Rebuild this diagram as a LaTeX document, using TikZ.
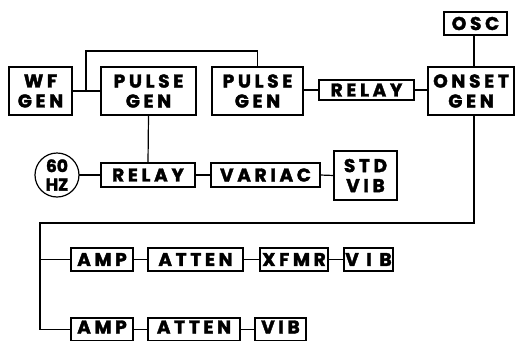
\documentclass[tikz,border=0pt]{standalone}
\usepackage{fontspec}
\newfontfamily\lblfont{Poppins}[LetterSpace=20,BoldFeatures={FakeBold=2}]
\newfontfamily\hzfont{Poppins}[BoldFeatures={FakeBold=2}]
\begin{document}
\begin{tikzpicture}[x=1pt,y=-1pt,
  every node/.style={inner sep=0pt,outer sep=0pt},
  blk/.style={draw,line width=1.2pt,font=\lblfont\bfseries\fontsize{18.5}{20}\selectfont,align=center},
  lowblk/.style={blk,text height=13pt,text depth=5pt},
  wire/.style={line width=1.2pt}]
\useasboundingbox (0,0) rectangle (518,340);
% top row
\node[blk,minimum width=63pt,minimum height=48pt] (wf) at (40.5,91) {WF\\GEN};
\node[blk,minimum width=95pt,minimum height=48pt] (pg1) at (148.5,91) {PULSE\\GEN};
\node[blk,minimum width=91pt,minimum height=48pt] (pg2) at (257.5,91) {PULSE\\GEN};
\node[blk,minimum width=95pt,minimum height=20pt] (rl1) at (366.5,90) {RELAY};
\node[blk,minimum width=86pt,minimum height=48pt] (on) at (471,91) {ONSET\\GEN};
\node[blk,minimum width=63pt,minimum height=23pt] (osc) at (475.5,23.5) {OSC};
% second row
\node[draw,circle,line width=1.2pt,minimum size=44pt,align=center,font=\hzfont\bfseries\fontsize{17}{18.5}\selectfont] (hz) at (57,175) {60\\HZ};
\node[blk,minimum width=94pt,minimum height=24pt] (rl2) at (148,175) {RELAY};
\node[blk,minimum width=109pt,minimum height=24pt] (var) at (265.5,175) {VARIAC};
\node[blk,minimum width=63pt,minimum height=49pt] (std) at (365.5,175.5) {STD\\VIB};
% third row
\node[blk,minimum width=62pt,minimum height=23pt] (amp1) at (102,259.5) {AMP};
\node[blk,minimum width=95pt,minimum height=23pt] (at1) at (195.5,259.5) {ATTEN};
\node[blk,minimum width=68pt,minimum height=23pt] (xf) at (294,259.5) {XFMR};
\node[blk,minimum width=49pt,minimum height=23pt] (vib1) at (368.5,259.5) {V I B};
% fourth row
\node[lowblk,minimum width=62pt,minimum height=23pt] (amp2) at (102,329.5) {AMP};
\node[lowblk,minimum width=92pt,minimum height=23pt] (at2) at (194,329.5) {ATTEN};
\node[lowblk,minimum width=51pt,minimum height=23pt] (vib2) at (280.5,329.5) {VIB};
% connectors
\coordinate (br) at (86,91);
\coordinate (bus) at (40,223);
\draw[wire] (wf.east) -- (pg1.west);
\draw[wire] (br) -- (86,51) -| (pg2.north);
\draw[wire] (pg2.east |- rl1.west) -- (rl1.west);
\draw[wire] (rl1.east) -- (rl1.east -| on.west);
\draw[wire] (osc.south -| 474,0) -- (474,67);
\draw[wire] (474,115) |- (bus) |- (amp2.west);
\draw[wire] (bus |- amp1.west) -- (amp1.west);
\draw[wire] (pg1.south) -- (rl2.north);
\draw[wire] (hz.east) -- (rl2.west);
\draw[wire] (rl2.east) -- (var.west);
\draw[wire] (var.east) -- (std.west);
\draw[wire] (amp1.east) -- (at1.west);
\draw[wire] (at1.east) -- (xf.west);
\draw[wire] (xf.east) -- (vib1.west);
\draw[wire] (amp2.east) -- (at2.west);
\draw[wire] (at2.east) -- (vib2.west);
\end{tikzpicture}
\end{document}
